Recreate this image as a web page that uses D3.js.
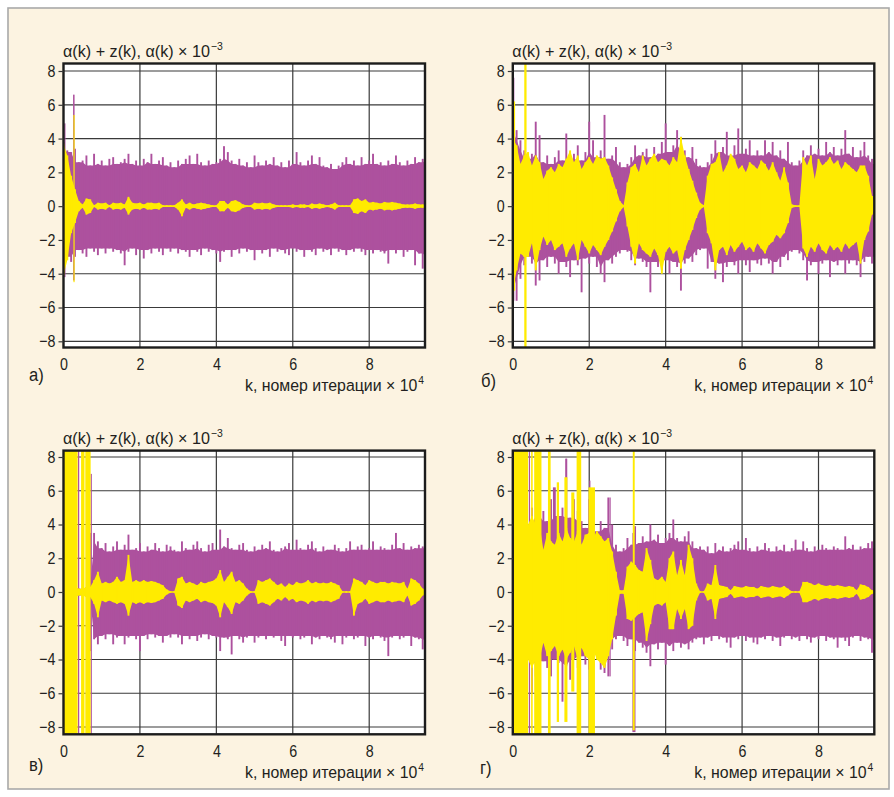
<!DOCTYPE html>
<html>
<head>
<meta charset="utf-8">
<script src="https://cdn.jsdelivr.net/npm/d3@7"></script>
<style>
  html, body { margin: 0; padding: 0; background: #fff; }
  svg { display: block; }
  .lbl { font-family: "Liberation Sans", Arial, sans-serif; fill: #231f20; }
</style>
</head>
<body>
<svg id="chart" width="894" height="797"></svg>
<script>
// Envelopes sampled every kStep (units of 10^4 iterations), from k = 0 to k = 9.5
const kStep = 0.1;
const xMax = 9.46;
const yTicks = [-8, -6, -4, -2, 0, 2, 4, 6, 8];
const xTicks = [0, 2, 4, 6, 8];
const xGrid = [2, 4, 6, 8];
const panelLetters = ["а)", "б)", "в)", "г)"];
const titleText = "α(k) + z(k), α(k) × 10";
const titleSup = "−3";
const xLabelText = "k, номер итерации × 10";
const xLabelSup = "4";

// ---- panel а ----
const purpleHiA = [3.8,3.3,3.2,3.4,2.6,2.7,3.0,2.4,3.1,2.5, 2.7,2.4,2.8,2.9,2.5,2.6,2.8,3.1,2.5,2.7, 2.4,2.8,2.6,3.1,2.5,2.7,2.9,2.4,2.6,2.3, 2.7,2.5,2.8,3.0,2.5,3.1,2.6,2.4,2.7,2.5, 2.6,2.8,3.55,3.2,2.7,2.5,2.8,2.4,2.6,2.3, 3.0,2.6,2.4,2.7,2.5,2.9,2.4,2.6,2.3,2.7, 2.5,3.2,2.6,2.4,2.7,3.0,2.5,2.9,2.4,2.3, 2.5,2.2,2.4,2.6,2.9,2.5,2.7,2.4,2.9,2.5, 2.7,3.1,2.5,2.6,2.4,2.7,2.5,3.0,2.6,2.4, 2.7,2.5,2.9,2.6,2.8,2.7];
const purpleLoA = [-4.2,-3.0,-3.3,-3.0,-2.6,-2.8,-3.0,-2.5,-2.7,-2.9, -2.5,-2.8,-2.5,-2.7,-2.6,-2.8,-3.5,-2.7,-2.5,-2.9, -2.6,-3.1,-2.6,-2.8,-2.5,-2.7,-2.9,-2.5,-2.7,-2.5, -2.8,-2.6,-2.7,-3.0,-2.6,-2.7,-2.9,-2.5,-2.7,-2.6, -2.8,-3.3,-2.7,-2.6,-3.0,-2.6,-2.8,-2.5,-2.7,-2.6, -3.2,-2.6,-2.8,-2.6,-3.0,-2.5,-2.7,-2.6,-2.8,-2.9, -2.5,-2.7,-2.6,-3.0,-2.6,-2.7,-2.9,-2.5,-2.7,-2.6, -2.9,-2.5,-2.7,-2.6,-2.9,-2.6,-2.7,-2.5,-2.7,-2.9, -2.6,-2.8,-2.6,-2.7,-2.8,-3.4,-2.6,-2.8,-2.6,-3.0, -2.7,-2.6,-3.5,-2.8,-3.7,-3.0];
const yellowHiA = [3.7,3.0,1.8,1.0,0.3,0.1,0.45,0.4,0.05,0.2, 0.15,0.2,0.05,0.2,0.15,0.2,0.1,0.55,0.2,0.15, 0.2,0.1,0.2,0.2,0.15,0.2,0.05,0.05,0.05,0.05, 0.2,0.4,0.1,0.2,0.1,0.15,0.2,0.15,0.1,0.05, 0.05,0.3,0.3,0.1,0.3,0.35,0.25,0.1,0.05,0.05, 0.2,0.15,0.2,0.15,0.2,0.1,0.05,0.05,0.05,0.05, 0.1,0.05,0.1,0.1,0.05,0.15,0.1,0.15,0.1,0.05, 0.1,0.2,0.05,0.05,0.05,0.05,0.4,0.45,0.3,0.4, 0.2,0.25,0.2,0.15,0.25,0.2,0.25,0.2,0.15,0.1, 0.1,0.1,0.15,0.1,0.1,0.05];
const yellowLoA = [-4.1,-3.2,-1.6,-1.0,-0.3,-0.1,-0.5,-0.4,-0.05,-0.2, -0.15,-0.2,-0.05,-0.2,-0.15,-0.2,-0.1,-0.5,-0.2,-0.15, -0.2,-0.1,-0.2,-0.2,-0.15,-0.2,-0.05,-0.05,-0.05,-0.05, -0.2,-0.6,-0.1,-0.2,-0.1,-0.15,-0.2,-0.15,-0.1,-0.05, -0.05,-0.3,-0.3,-0.1,-0.3,-0.35,-0.25,-0.1,-0.05,-0.05, -0.2,-0.15,-0.2,-0.15,-0.2,-0.1,-0.05,-0.05,-0.05,-0.05, -0.1,-0.05,-0.1,-0.1,-0.05,-0.15,-0.1,-0.15,-0.1,-0.05, -0.1,-0.2,-0.05,-0.05,-0.05,-0.05,-0.4,-0.45,-0.3,-0.4, -0.2,-0.25,-0.2,-0.15,-0.25,-0.2,-0.25,-0.2,-0.15,-0.1, -0.1,-0.1,-0.15,-0.1,-0.1,-0.05];
// narrow bursts: [k from, k to, top, bottom]
const purpleSpikesA = [[0.02,0.05,4.9,-4.2],[0.25,0.29,6.6,-4.4]];
const yellowSpikesA = [[0.26,0.29,5.4,-4.5]];

// ---- panel б ----
const purpleHiB = [4.5,4.5,3.9,3.3,2.8,3.1,5.0,4.2,2.6,3.0, 2.5,2.9,3.3,2.7,4.3,2.8,3.1,3.6,2.7,3.2, 5.0,3.9,2.9,3.3,5.4,2.8,3.0,3.5,2.6,2.3, 2.5,2.9,3.6,3.0,3.2,3.4,2.9,3.5,3.1,3.8, 4.9,3.2,3.6,4.5,4.1,3.3,2.9,3.5,2.8,2.4, 2.3,2.6,3.1,3.9,3.2,3.5,4.4,3.0,3.6,4.6, 3.1,3.4,3.9,3.0,3.3,3.0,3.9,3.2,3.8,3.0, 3.3,2.8,3.8,2.6,2.4,2.7,3.3,3.0,3.6,3.1, 3.4,3.0,3.8,3.2,3.5,3.0,3.4,4.5,3.1,3.5, 2.9,3.3,3.8,3.0,2.8,2.5];
const purpleLoB = [-5.0,-5.6,-4.3,-3.5,-3.0,-3.4,-4.7,-4.4,-3.2,-3.6, -3.0,-3.4,-4.0,-3.3,-3.6,-4.2,-3.2,-3.5,-5.1,-3.1, -3.4,-3.0,-3.6,-4.0,-4.5,-3.2,-3.4,-3.0,-2.8,-2.6, -2.7,-3.2,-3.5,-3.1,-3.3,-3.6,-5.1,-3.3,-3.6,-3.8, -3.2,-4.0,-3.3,-3.6,-5.0,-3.4,-3.1,-3.3,-2.9,-2.6, -2.5,-3.7,-3.3,-4.3,-3.4,-4.5,-3.6,-3.3,-3.5,-4.0, -3.2,-3.5,-3.9,-3.2,-3.4,-3.5,-3.1,-3.4,-4.0,-3.3, -3.6,-3.0,-3.2,-2.7,-2.6,-2.8,-3.2,-4.4,-3.5,-3.3, -4.0,-3.4,-3.2,-4.2,-3.3,-3.5,-3.2,-4.0,-3.4,-3.2, -3.5,-4.2,-3.3,-3.0,-3.4,-3.0];
const yellowHiB = [4.0,3.6,2.5,3.0,3.2,2.4,3.0,2.6,1.6,2.1, 2.3,2.0,2.5,2.3,2.8,3.3,2.6,3.0,2.2,2.6, 2.9,2.5,3.0,2.8,2.9,2.4,1.7,1.0,0.3,0.05, 1.4,2.3,2.5,2.0,3.0,2.4,2.8,3.1,2.6,2.8, 2.7,2.4,2.9,2.6,4.1,3.0,2.2,1.5,0.8,0.2, 0.05,1.8,2.5,2.6,3.2,2.0,2.4,3.1,2.8,2.2, 2.4,2.0,2.6,2.4,2.2,2.7,2.5,2.1,2.6,2.0, 1.5,2.3,1.4,0.1,0.05,0.05,2.9,2.4,3.0,1.6, 2.8,2.4,2.6,2.9,2.5,2.7,2.2,2.6,2.4,2.2, 2.0,2.4,2.4,1.8,0.6,0.05];
const yellowLoB = [-5.0,-3.8,-2.8,-3.0,-3.0,-2.2,-3.8,-2.6,-1.8,-2.3, -2.0,-2.6,-2.4,-2.2,-3.0,-2.5,-2.2,-3.2,-2.0,-2.4, -2.8,-2.3,-2.6,-2.9,-2.4,-2.0,-1.5,-0.9,-0.3,-0.05, -1.2,-2.4,-3.4,-2.2,-2.6,-2.8,-3.0,-2.5,-2.9,-4.0, -2.7,-2.4,-2.8,-2.6,-3.7,-2.6,-2.0,-1.4,-0.7,-0.2, -0.05,-1.6,-2.2,-3.8,-2.6,-2.4,-2.9,-2.3,-2.7,-2.4, -2.1,-2.6,-2.4,-2.7,-2.2,-2.5,-2.8,-2.3,-2.1,-1.7, -1.9,-1.6,-1.0,-0.1,-0.05,-0.05,-2.5,-3.0,-2.4,-2.7, -2.2,-2.6,-2.8,-2.3,-2.6,-2.4,-2.7,-2.2,-2.5,-2.3, -2.1,-3.4,-2.0,-1.5,-0.5,-0.05];
const purpleSpikesB = [[0.0,0.04,7.6,-5.6]];
const yellowSpikesB = [[0.02,0.06,6.2,-5.0],[0.30,0.36,8.6,-8.6]];

// ---- panel в ----
const purpleHiV = [0.3,0.3,0.3,0.3,0.2,0.2,0.3,3.5,3.5,3.0, 2.6,2.9,2.4,2.7,3.0,2.5,2.8,3.4,2.5,2.6, 2.9,2.4,2.7,2.5,2.9,2.6,2.4,2.8,2.7,2.5, 2.4,3.0,2.6,2.5,2.8,3.0,2.6,2.4,2.8,2.9, 2.5,3.7,2.7,3.2,2.6,2.5,2.8,2.9,2.5,2.4, 2.7,2.5,2.8,2.6,3.0,2.5,2.4,2.6,2.7,2.9, 2.5,3.1,2.6,2.5,2.8,3.0,2.6,2.4,2.7,2.5, 2.5,2.8,2.6,2.4,2.6,3.0,2.5,2.7,2.8,2.5, 2.6,3.0,2.5,2.7,2.6,2.5,2.8,3.5,2.6,2.9, 2.5,2.7,2.6,2.8,2.7,2.6];
const purpleLoV = [-0.3,-0.3,-0.3,-0.3,-0.2,-0.2,-0.3,-3.5,-2.8,-3.1, -2.6,-2.8,-2.5,-3.1,-2.7,-2.6,-3.1,-2.7,-2.6,-2.8, -3.5,-2.6,-2.8,-2.5,-2.7,-2.6,-3.0,-2.6,-2.7,-2.5, -2.7,-3.1,-2.6,-2.8,-2.6,-2.9,-2.7,-2.5,-2.8,-2.6, -2.7,-3.5,-2.7,-2.8,-3.7,-2.6,-2.8,-3.0,-2.7,-2.6, -3.0,-2.7,-2.6,-2.8,-2.6,-2.7,-2.6,-2.9,-3.2,-2.6, -2.7,-2.6,-2.8,-2.7,-2.6,-3.1,-2.7,-2.8,-2.6,-2.7, -2.8,-3.0,-2.6,-3.1,-2.7,-2.6,-2.8,-2.7,-2.6,-3.2, -2.7,-2.8,-2.6,-2.7,-2.9,-3.8,-2.7,-2.6,-2.8,-2.7, -2.6,-3.2,-2.7,-2.8,-3.4,-2.9];
const yellowHiV = [0.3,0.3,0.3,0.3,0.2,0.2,0.3,0.3,0.7,1.2, 0.5,0.6,0.5,0.6,0.9,0.6,0.7,2.2,0.6,0.7, 0.6,0.7,0.6,0.65,0.6,0.5,0.4,0.15,0.05,0.05, 0.8,0.9,0.5,0.6,0.5,0.4,0.6,0.5,0.6,0.65, 0.8,1.3,0.6,0.9,1.2,0.6,0.7,0.5,0.2,0.05, 0.05,0.7,0.6,0.7,0.8,0.6,0.4,0.5,0.3,0.5, 0.4,0.6,0.5,0.55,0.7,0.5,0.6,0.5,0.55,0.5, 0.6,0.5,0.4,0.05,0.05,0.05,0.8,0.7,0.6,0.4, 0.7,0.6,0.5,0.6,0.6,0.5,0.6,0.55,0.5,0.6, 0.2,0.8,0.7,0.5,0.2,0.05];
const yellowLoV = [-0.3,-0.3,-0.3,-0.3,-0.2,-0.2,-0.3,-0.3,-0.7,-1.5, -0.5,-0.6,-0.5,-0.6,-0.7,-0.6,-0.7,-1.4,-0.6,-0.7, -0.6,-0.7,-0.6,-0.65,-0.6,-0.5,-0.4,-0.15,-0.05,-0.05, -0.8,-0.95,-0.5,-0.6,-0.5,-0.4,-0.6,-0.5,-0.6,-0.65, -0.8,-1.5,-0.6,-0.9,-1.3,-0.6,-0.7,-0.5,-0.2,-0.05, -0.05,-0.7,-0.6,-0.7,-0.8,-0.6,-0.4,-0.5,-0.3,-0.5, -0.4,-0.6,-0.5,-0.55,-0.7,-0.5,-0.6,-0.5,-0.55,-0.5, -0.6,-0.5,-0.4,-0.05,-0.05,-0.05,-1.4,-0.7,-0.6,-0.4, -0.7,-0.6,-0.5,-0.6,-0.6,-0.5,-0.6,-0.55,-0.5,-0.6, -0.2,-0.8,-0.7,-0.5,-0.2,-0.05];
const purpleSpikesV = [[0.0,0.02,8.6,-8.6],[0.38,0.40,8.6,-8.6],[0.71,0.74,7.0,-8.6]];
const yellowSpikesV = [[0.0,0.37,8.6,-8.6],[0.46,0.55,8.6,-8.6],[0.57,0.71,8.6,-8.6]];

// ---- panel г ----
const purpleHiG = [4.0,4.0,4.0,4.0,4.0,5.0,6.0,4.5,4.8,4.2, 5.5,6.2,4.5,5.0,7.9,4.4,5.5,4.8,4.2,3.8, 5.5,4.6,3.6,4.2,3.8,5.6,4.0,2.8,2.4,2.6, 3.2,2.8,3.9,2.9,3.3,3.0,4.0,3.1,3.4,2.9, 3.2,3.5,4.3,3.2,3.0,3.3,3.6,3.0,2.6,2.7, 2.5,2.7,2.3,2.9,2.5,2.7,2.4,2.6,2.8,3.0, 2.5,3.2,2.6,2.4,2.7,2.5,2.9,2.6,2.4,2.7, 2.5,2.8,2.4,2.6,3.1,2.5,3.0,2.6,2.4,2.7, 2.5,2.8,2.6,2.5,2.7,2.6,2.5,3.3,2.6,2.8, 2.5,2.7,2.6,2.9,3.0,2.6];
const purpleLoG = [-4.0,-4.0,-4.0,-4.0,-4.0,-6.0,-5.0,-4.3,-4.1,-4.5, -5.0,-4.0,-4.2,-6.5,-4.4,-5.2,-4.0,-4.5,-3.8,-4.3, -4.6,-3.5,-3.8,-4.6,-4.8,-5.0,-3.4,-2.8,-2.6,-2.9, -3.2,-2.8,-3.5,-3.0,-3.3,-3.6,-4.4,-3.1,-3.4,-3.0, -4.3,-3.2,-3.5,-3.0,-3.3,-3.1,-3.4,-3.0,-2.8,-2.7, -3.1,-2.7,-2.9,-2.6,-2.8,-2.7,-3.0,-3.3,-2.7,-2.8, -2.6,-2.9,-2.7,-3.0,-3.1,-2.7,-2.8,-2.6,-2.9,-2.7, -3.2,-2.7,-2.6,-2.8,-2.7,-2.9,-2.6,-2.8,-3.0,-2.7, -2.8,-2.6,-2.9,-2.7,-2.8,-3.3,-2.7,-2.9,-3.2,-2.7, -2.6,-2.9,-2.7,-2.8,-3.6,-2.9];
const yellowHiG = [4.0,4.0,4.0,4.0,4.0,4.5,4.0,4.0,2.5,3.5, 3.0,2.8,3.5,3.0,3.8,3.2,3.0,3.6,2.8,3.4, 3.5,3.2,3.6,3.3,3.0,3.2,2.4,1.2,0.1,0.1, 1.5,1.8,1.6,1.3,1.2,2.6,1.9,0.8,0.7,0.9, 0.6,2.0,2.4,1.0,1.9,1.0,2.8,2.0,0.5,0.05, 0.05,0.5,0.4,1.6,0.4,0.35,0.3,0.1,0.35,0.3, 0.25,0.35,0.3,0.3,0.2,0.35,0.3,0.25,0.35,0.3, 0.25,0.35,0.2,0.05,0.05,0.05,0.6,0.6,0.5,0.4, 0.5,0.4,0.35,0.4,0.35,0.4,0.35,0.3,0.35,0.3, 0.1,0.45,0.4,0.3,0.1,0.05];
const yellowLoG = [-4.0,-4.0,-4.0,-4.0,-4.0,-4.5,-4.0,-4.0,-3.0,-3.8, -3.5,-3.2,-3.8,-3.4,-4.0,-3.6,-3.2,-4.0,-3.3,-3.8, -4.0,-3.4,-4.0,-4.2,-4.5,-3.8,-2.8,-1.4,-0.1,-0.1, -1.6,-1.7,-1.5,-1.3,-1.2,-2.9,-1.9,-0.8,-0.7,-0.8, -0.6,-2.2,-2.2,-1.0,-1.6,-1.0,-2.2,-2.0,-0.5,-0.05, -0.05,-0.5,-0.4,-1.6,-0.4,-0.35,-0.3,-0.1,-0.35,-0.3, -0.25,-0.35,-0.3,-0.3,-0.2,-0.35,-0.3,-0.25,-0.35,-0.3, -0.25,-0.35,-0.2,-0.05,-0.05,-0.05,-0.6,-0.6,-0.5,-0.4, -0.5,-0.4,-0.35,-0.4,-0.35,-0.4,-0.35,-0.3,-0.35,-0.3, -0.1,-0.45,-0.4,-0.3,-0.1,-0.05];
const purpleSpikesG = [[0.42,0.44,8.6,-8.6],[1.05,1.08,6.2,-4.0],[1.38,1.40,7.9,-4.5],[2.0,2.03,6.6,-8.6],[2.53,2.56,5.6,-5.0],[3.13,3.21,3.5,-8.3]];
const yellowSpikesG = [[0.0,0.40,8.6,-8.6],[0.48,0.52,8.6,-8.6],[0.56,0.75,8.6,-8.6],[0.92,0.99,8.6,-8.6],[1.15,1.21,6.5,-7.7],[1.35,1.43,6.8,-7.7],[1.53,1.61,5.9,-5.9],[1.67,1.79,8.6,-8.6],[1.98,2.15,6.2,-8.6],[3.14,3.19,8.4,-8.2]];

// ---- layout & styles ----
const W = 894, H = 797;
const PURPLE = "#ad519e";
const YELLOW = "#ffeb00";
const TEXT = "#231f20";
const condense = 0.84;            // narrow lettering for tick labels
const titleCondense = 0.95, xLabelCondense = 0.935;
const needleW = 1.9;              // width of each sampled swing
const colLeft = [63.5, 512.8], colRight = [425, 874.3];
const rowTop = [63.5, 450.6], rowBottom = [347.5, 734.3];
const rowY8 = [71, 457], rowYm8 = [341.3, 727];
const letterPos = [[29, 381], [481, 387], [29, 771], [480, 774]];

const panels = [
  { col: 0, row: 0, pHi: purpleHiA, pLo: purpleLoA, yHi: yellowHiA, yLo: yellowLoA, pS: purpleSpikesA, yS: yellowSpikesA },
  { col: 1, row: 0, pHi: purpleHiB, pLo: purpleLoB, yHi: yellowHiB, yLo: yellowLoB, pS: purpleSpikesB, yS: yellowSpikesB },
  { col: 0, row: 1, pHi: purpleHiV, pLo: purpleLoV, yHi: yellowHiV, yLo: yellowLoV, pS: purpleSpikesV, yS: yellowSpikesV },
  { col: 1, row: 1, pHi: purpleHiG, pLo: purpleLoG, yHi: yellowHiG, yLo: yellowLoG, pS: purpleSpikesG, yS: yellowSpikesG }
];

const svg = d3.select("#chart");
svg.append("rect").attr("width", W).attr("height", H).attr("fill", "#fff");
svg.append("rect").attr("x", 8).attr("y", 8).attr("width", 881).attr("height", 781)
  .attr("fill", "#fcf3e1").attr("stroke", "#a9a9a9").attr("stroke-width", 1.6);

// solid core of a band: the local minimum swing around each sample
function coreOf(hi, lo) {
  return hi.map((h, i) => {
    const a = Math.max(0, i - 1), b = Math.min(hi.length - 1, i + 1);
    return [d3.min(hi.slice(a, b + 1)), d3.max(lo.slice(a, b + 1))];
  });
}

// text set in a horizontally narrowed group anchored at (x, y)
function narrowText(parent, x, y, size, squeeze, anchor) {
  return parent.append("g").attr("transform", `translate(${x},${y}) scale(${squeeze},1)`)
    .append("text").attr("class", "lbl").attr("font-size", size).attr("text-anchor", anchor || "start");
}

panels.forEach((p, pi) => {
  const L = colLeft[p.col], R = colRight[p.col], T = rowTop[p.row], B = rowBottom[p.row];
  const x = d3.scaleLinear().domain([0, xMax]).range([L, R]);
  const y = d3.scaleLinear().domain([-8, 8]).range([rowYm8[p.row], rowY8[p.row]]);
  const g = svg.append("g");

  g.append("rect").attr("x", L).attr("y", T).attr("width", R - L).attr("height", B - T).attr("fill", "#fff");
  const clipId = "plotclip" + pi;
  g.append("clipPath").attr("id", clipId).append("rect")
    .attr("x", L).attr("y", T).attr("width", R - L).attr("height", B - T);

  // grid
  g.append("g").selectAll("line").data(yTicks).join("line")
    .attr("x1", L).attr("x2", R).attr("y1", d => y(d)).attr("y2", d => y(d))
    .attr("stroke", "#3a3a3a").attr("stroke-width", 1.2);
  g.append("g").selectAll("line").data(xGrid).join("line")
    .attr("x1", d => x(d)).attr("x2", d => x(d)).attr("y1", T).attr("y2", B)
    .attr("stroke", "#3a3a3a").attr("stroke-width", 1.2);

  const plot = g.append("g").attr("clip-path", `url(#${clipId})`);
  const band = d3.area()
    .x((d, i) => x(i * kStep))
    .y0(d => y(d[1]))
    .y1(d => y(d[0]));
  const needles = (sel, hi, lo, color) => sel.selectAll(null).data(d3.zip(hi, lo)).join("rect")
    .attr("x", (d, i) => x(i * kStep) - needleW / 2)
    .attr("width", needleW)
    .attr("y", d => y(d[0]))
    .attr("height", d => y(d[1]) - y(d[0]))
    .attr("fill", color);
  const spikeRects = (sel, data, color) => sel.selectAll(null).data(data).join("rect")
    .attr("x", d => x(d[0]))
    .attr("width", d => Math.max(1.2, x(d[1]) - x(d[0])))
    .attr("y", d => y(d[2]))
    .attr("height", d => y(d[3]) - y(d[2]))
    .attr("fill", color);

  // α(k) + z(k): purple
  plot.append("path").datum(coreOf(p.pHi, p.pLo)).attr("d", band).attr("fill", PURPLE);
  needles(plot.append("g"), p.pHi, p.pLo, PURPLE);
  spikeRects(plot.append("g"), p.pS, PURPLE);
  // α(k): yellow
  plot.append("path").datum(d3.zip(p.yHi, p.yLo)).attr("d", band).attr("fill", YELLOW);
  needles(plot.append("g"), p.yHi, p.yLo, YELLOW);
  spikeRects(plot.append("g"), p.yS, YELLOW);

  // frame
  g.append("rect").attr("x", L).attr("y", T).attr("width", R - L).attr("height", B - T)
    .attr("fill", "none").attr("stroke", "#1c1c1c").attr("stroke-width", 2.4);

  // axes
  const yAxis = g.append("g").attr("transform", `translate(${L},0)`)
    .call(d3.axisLeft(y).tickValues(yTicks).tickSize(5).tickPadding(3).tickFormat(d3.format("d")));
  yAxis.select(".domain").remove();
  yAxis.selectAll("line").attr("stroke", "#3a3a3a").attr("stroke-width", 1.2);
  yAxis.selectAll("text").attr("class", "lbl").attr("font-size", 17).attr("fill", TEXT)
    .attr("x", -8 / condense).attr("transform", `scale(${condense},1)`);

  const xAxis = g.append("g").attr("transform", `translate(0,${B})`)
    .call(d3.axisBottom(x).tickValues(xTicks).tickSize(0).tickPadding(10.5).tickFormat(d3.format("d")));
  xAxis.select(".domain").remove();
  xAxis.selectAll("text").attr("class", "lbl").attr("font-size", 17).attr("fill", TEXT)
    .attr("transform", `scale(${condense},1)`);

  // title
  const t = narrowText(g, L - 0.5, T - 7, 17, titleCondense);
  t.append("tspan").text(titleText);
  t.append("tspan").attr("dx", 1).attr("dy", -6.5).attr("font-size", 11).text(titleSup);

  // x label
  const xl = narrowText(g, R - 1, B + 43.5, 17, xLabelCondense, "end");
  xl.append("tspan").text(xLabelText);
  xl.append("tspan").attr("dx", 1).attr("dy", -7).attr("font-size", 11).text(xLabelSup);

  // panel letter
  narrowText(g, letterPos[pi][0], letterPos[pi][1], 18.5, 0.9).text(panelLetters[pi]);
});
</script>
</body>
</html>
